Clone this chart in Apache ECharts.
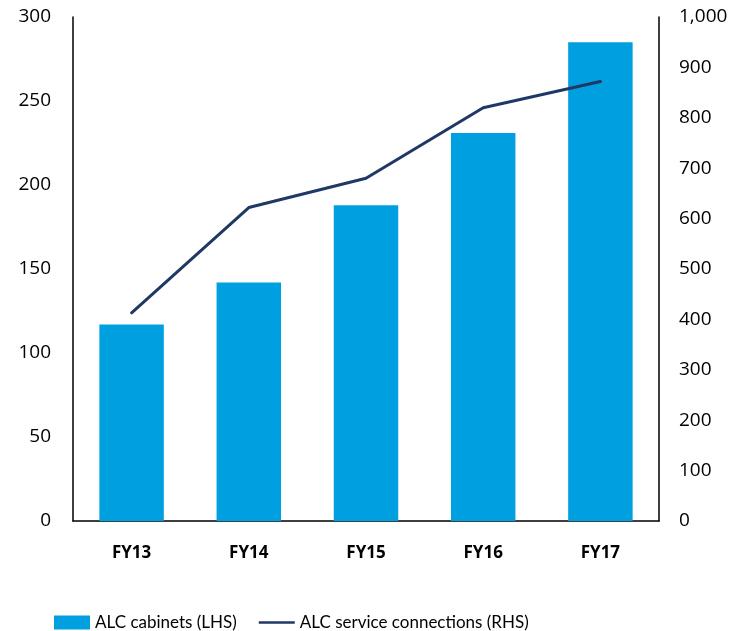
<!DOCTYPE html>
<html>
<head>
<meta charset="utf-8">
<script src="https://cdn.jsdelivr.net/npm/echarts@6/dist/echarts.min.js"></script>
<style>
  html, body { margin: 0; padding: 0; background: #fff; }
  #container { width: 737px; height: 631px; }
</style>
</head>
<body>
<div id="container"></div>
<script>
var categories = ['FY13', 'FY14', 'FY15', 'FY16', 'FY17'];
var cabinets = [117, 142, 188, 231, 285];
var connections = [413, 622, 680, 820, 872];

var myChart = echarts.init(document.getElementById('container'));
var font = 'Open Sans';
var legendFont = 'Lato, sans-serif';
var option = {
  animation: false,
  textStyle: { fontFamily: font },
  grid: { left: 73, right: 78, top: 17, bottom: 110 },
  legend: {
    top: 609,
    left: 49,
    itemGap: 22,
    itemWidth: 36,
    itemHeight: 14,
    textStyle: { fontSize: 17, color: '#000', fontFamily: legendFont },
    data: [
      { name: 'ALC cabinets (LHS)', icon: 'rect' },
      { name: 'ALC service connections (RHS)', icon: 'path://M0,6 L40,6 L40,9 L0,9 Z', itemStyle: { color: '#1F3864' } }
    ]
  },
  xAxis: {
    type: 'category',
    data: categories,
    axisLine: { lineStyle: { color: '#000', width: 1.5 } },
    axisTick: { show: false },
    axisLabel: { fontSize: 17, fontWeight: 'bold', color: '#000', margin: 24 }
  },
  yAxis: [
    {
      type: 'value', min: 0, max: 300, interval: 50,
      axisLine: { show: true, lineStyle: { color: '#000', width: 1.5 } },
      axisTick: { show: false },
      splitLine: { show: false },
      axisLabel: { fontSize: 19, color: '#000', margin: 22 }
    },
    {
      type: 'value', min: 0, max: 1000, interval: 100,
      axisLine: { show: true, lineStyle: { color: '#000', width: 1.5 } },
      axisTick: { show: false },
      splitLine: { show: false },
      axisLabel: {
        fontSize: 19, color: '#000', margin: 20,
        formatter: function (v) { return v.toLocaleString('en-US'); }
      }
    }
  ],
  series: [
    {
      name: 'ALC cabinets (LHS)',
      type: 'bar',
      data: cabinets,
      barWidth: '55%',
      itemStyle: { color: '#009FDF' }
    },
    {
      name: 'ALC service connections (RHS)',
      type: 'line',
      yAxisIndex: 1,
      data: connections,
      symbol: 'none',
      lineStyle: { color: '#1F3864', width: 3, cap: 'round' },
      itemStyle: { color: '#1F3864' }
    }
  ]
};
myChart.setOption(option);
</script>
</body>
</html>
